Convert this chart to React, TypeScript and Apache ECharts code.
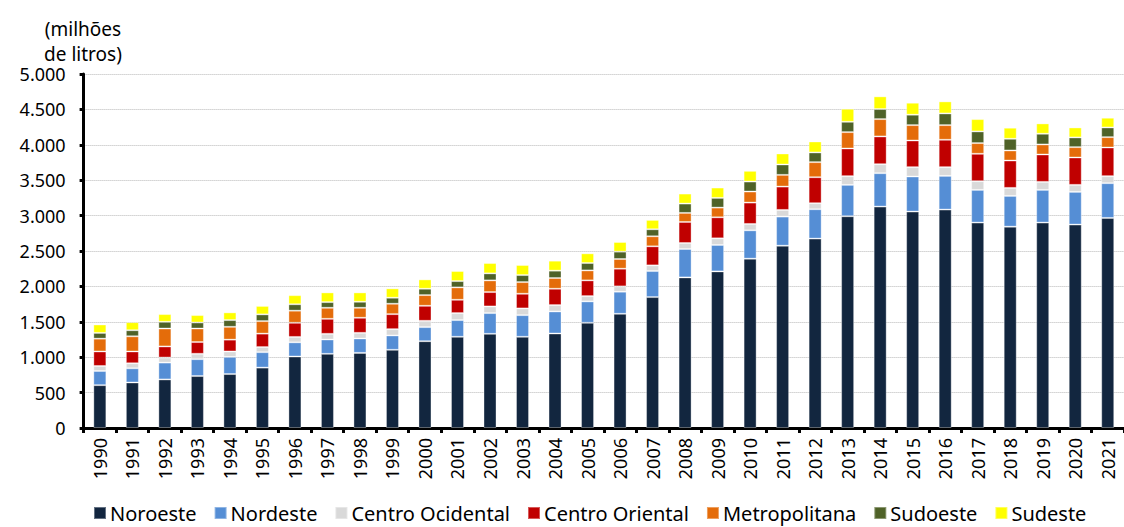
import React, { useEffect, useRef } from "react";
import * as echarts from "echarts";

const years = [
  "1990","1991","1992","1993","1994","1995","1996","1997","1998","1999",
  "2000","2001","2002","2003","2004","2005","2006","2007","2008","2009",
  "2010","2011","2012","2013","2014","2015","2016","2017","2018","2019",
  "2020","2021",
];

const noroeste = [605, 643, 686, 734, 762, 853, 1010, 1047, 1061, 1104, 1226, 1288, 1330, 1288, 1335, 1486, 1613, 1849, 2127, 2212, 2392, 2575, 2675, 2991, 3127, 3057, 3085, 2901, 2844, 2901, 2873, 2967];
const nordeste = [200, 200, 238, 238, 243, 218, 200, 203, 203, 203, 199, 236, 293, 306, 311, 302, 312, 368, 401, 373, 400, 411, 415, 443, 472, 495, 476, 462, 434, 462, 462, 491];
const centroOcidental = [71, 71, 71, 76, 76, 72, 76, 80, 80, 89, 89, 99, 94, 95, 90, 75, 75, 80, 85, 94, 90, 94, 85, 123, 127, 132, 123, 123, 113, 113, 99, 99];
const centroOriental = [205, 167, 157, 166, 167, 190, 200, 212, 213, 212, 212, 188, 203, 207, 231, 222, 250, 269, 297, 297, 302, 330, 367, 391, 392, 377, 387, 387, 387, 387, 387, 405];
const metropolitana = [181, 214, 253, 191, 181, 177, 171, 156, 141, 147, 151, 175, 165, 165, 151, 141, 137, 142, 128, 137, 156, 165, 213, 231, 245, 217, 207, 151, 142, 142, 146, 146];
const sudoeste = [81, 86, 95, 85, 95, 95, 91, 80, 85, 85, 90, 89, 99, 99, 104, 104, 104, 99, 132, 137, 141, 147, 137, 146, 142, 147, 165, 165, 165, 151, 137, 137];
const sudeste = [119, 114, 109, 105, 109, 119, 128, 137, 132, 132, 132, 142, 146, 142, 141, 137, 136, 132, 141, 146, 151, 155, 155, 184, 179, 169, 170, 174, 156, 146, 141, 137];

const seriesNames = ["Noroeste", "Nordeste", "Centro Ocidental", "Centro Oriental", "Metropolitana", "Sudoeste", "Sudeste"];
const seriesData = [noroeste, nordeste, centroOcidental, centroOriental, metropolitana, sudoeste, sudeste];
const seriesColors = ["#12263f", "#558ed5", "#d9d9d9", "#c00000", "#e46c0a", "#4f6228", "#ffff00"];

const FONT = "'Noto Sans', sans-serif";

function fmt(v: number): string {
  if (v >= 1000) {
    const r = v % 1000;
    return Math.floor(v / 1000) + "." + String(r).padStart(3, "0");
  }
  return String(v);
}

export default function App() {
  const ref = useRef<HTMLDivElement>(null);
  useEffect(() => {
    if (!ref.current) return;
    const chart = echarts.init(ref.current, undefined, { renderer: "svg" });
    chart.setOption({
      animation: false,
      backgroundColor: "#ffffff",
      textStyle: { fontFamily: FONT },
      grid: { left: 83.6, top: 74, width: 1047.3, height: 354, containLabel: false },
      legend: {
        left: 88,
        top: 497,
        icon: "rect",
        itemWidth: 12,
        itemHeight: 12,
        itemGap: 17,
        textStyle: { fontSize: 20, lineHeight: 22, color: "#000", fontFamily: FONT, padding: [0, 0, 0, -1] },
        data: seriesNames,
      },
      graphic: [
        {
          type: "text",
          x: 83,
          y: 16,
          style: {
            text: "(milhões\nde litros)",
            fontSize: 19,
            lineHeight: 25,
            fontFamily: FONT,
            fill: "#000",
            textAlign: "center",
          },
        },
      ],
      xAxis: {
        type: "category",
        data: years,
        boundaryGap: true,
        axisLine: { lineStyle: { color: "#000", width: 3 } },
        axisTick: { show: true, length: 5, lineStyle: { color: "#000", width: 3 } },
        axisLabel: { rotate: 90, fontSize: 18, color: "#000", margin: 10, interval: 0, fontFamily: FONT },
      },
      yAxis: {
        type: "value",
        min: 0,
        max: 5000,
        interval: 500,
        axisLine: { show: true, lineStyle: { color: "#000", width: 3 } },
        axisTick: { show: true, length: 4, lineStyle: { color: "#000", width: 3 } },
        axisLabel: { fontSize: 18, color: "#000", margin: 18, formatter: (v: number) => fmt(v), fontFamily: FONT },
        splitLine: { show: true, lineStyle: { color: "#b8b8b8", type: "dotted", width: 1 } },
      },
      series: seriesNames.map((name, i) => ({
        name,
        type: "bar",
        stack: "total",
        barWidth: 13,
        data: seriesData[i],
        itemStyle: { color: seriesColors[i], borderColor: "rgba(255,255,255,0.35)", borderWidth: 1 },
      })),
    });
    return () => chart.dispose();
  }, []);
  return (
    <div
      ref={ref}
      style={{ position: "fixed", left: 0, top: 0, width: 1124, height: 527, background: "#fff" }}
    />
  );
}
